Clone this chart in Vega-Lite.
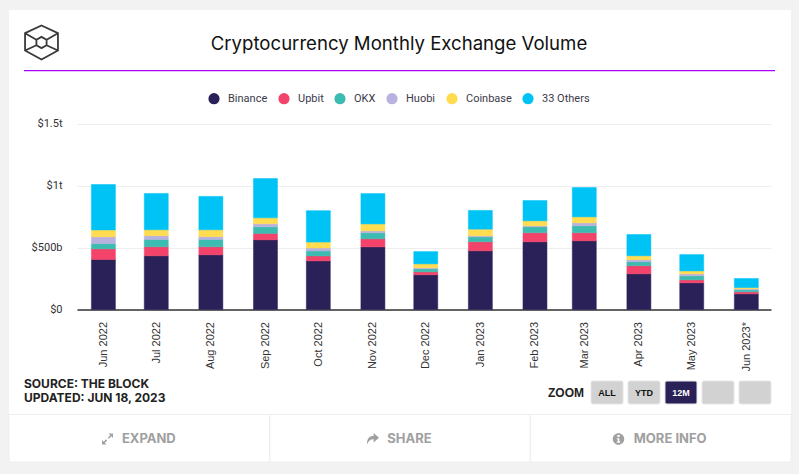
{
  "$schema": "https://vega.github.io/schema/vega-lite/v6.json",
  "autosize": {"type": "none"},
  "width": 782,
  "height": 452,
  "padding": {"left": 9, "top": 10, "right": 8, "bottom": 12},
  "background": "#f2f2f2",
  "view": {"fill": "#ffffff", "stroke": null},
  "title": {"text": "Cryptocurrency Monthly Exchange Volume", "anchor": "middle", "frame": "group", "offset": -44, "dx": -1, "font": "Inter", "fontSize": 18.6, "fontWeight": 400, "color": "#111111"},
  "layer": [
    {
      "data": {"values": [
        {"month": "2022-06-01", "exchange": "Binance", "rank": 1, "volume": 403},
        {"month": "2022-06-01", "exchange": "Upbit", "rank": 2, "volume": 86},
        {"month": "2022-06-01", "exchange": "OKX", "rank": 3, "volume": 43},
        {"month": "2022-06-01", "exchange": "Huobi", "rank": 4, "volume": 54},
        {"month": "2022-06-01", "exchange": "Coinbase", "rank": 5, "volume": 56},
        {"month": "2022-06-01", "exchange": "33 Others", "rank": 6, "volume": 366},
        {"month": "2022-07-01", "exchange": "Binance", "rank": 1, "volume": 433},
        {"month": "2022-07-01", "exchange": "Upbit", "rank": 2, "volume": 73},
        {"month": "2022-07-01", "exchange": "OKX", "rank": 3, "volume": 59},
        {"month": "2022-07-01", "exchange": "Huobi", "rank": 4, "volume": 30},
        {"month": "2022-07-01", "exchange": "Coinbase", "rank": 5, "volume": 48},
        {"month": "2022-07-01", "exchange": "33 Others", "rank": 6, "volume": 293},
        {"month": "2022-08-01", "exchange": "Binance", "rank": 1, "volume": 441},
        {"month": "2022-08-01", "exchange": "Upbit", "rank": 2, "volume": 65},
        {"month": "2022-08-01", "exchange": "OKX", "rank": 3, "volume": 59},
        {"month": "2022-08-01", "exchange": "Huobi", "rank": 4, "volume": 22},
        {"month": "2022-08-01", "exchange": "Coinbase", "rank": 5, "volume": 56},
        {"month": "2022-08-01", "exchange": "33 Others", "rank": 6, "volume": 269},
        {"month": "2022-09-01", "exchange": "Binance", "rank": 1, "volume": 562},
        {"month": "2022-09-01", "exchange": "Upbit", "rank": 2, "volume": 51},
        {"month": "2022-09-01", "exchange": "OKX", "rank": 3, "volume": 54},
        {"month": "2022-09-01", "exchange": "Huobi", "rank": 4, "volume": 24},
        {"month": "2022-09-01", "exchange": "Coinbase", "rank": 5, "volume": 48},
        {"month": "2022-09-01", "exchange": "33 Others", "rank": 6, "volume": 317},
        {"month": "2022-10-01", "exchange": "Binance", "rank": 1, "volume": 392},
        {"month": "2022-10-01", "exchange": "Upbit", "rank": 2, "volume": 40},
        {"month": "2022-10-01", "exchange": "OKX", "rank": 3, "volume": 40},
        {"month": "2022-10-01", "exchange": "Huobi", "rank": 4, "volume": 24},
        {"month": "2022-10-01", "exchange": "Coinbase", "rank": 5, "volume": 48},
        {"month": "2022-10-01", "exchange": "33 Others", "rank": 6, "volume": 253},
        {"month": "2022-11-01", "exchange": "Binance", "rank": 1, "volume": 505},
        {"month": "2022-11-01", "exchange": "Upbit", "rank": 2, "volume": 65},
        {"month": "2022-11-01", "exchange": "OKX", "rank": 3, "volume": 48},
        {"month": "2022-11-01", "exchange": "Huobi", "rank": 4, "volume": 16},
        {"month": "2022-11-01", "exchange": "Coinbase", "rank": 5, "volume": 56},
        {"month": "2022-11-01", "exchange": "33 Others", "rank": 6, "volume": 245},
        {"month": "2022-12-01", "exchange": "Binance", "rank": 1, "volume": 280},
        {"month": "2022-12-01", "exchange": "Upbit", "rank": 2, "volume": 24},
        {"month": "2022-12-01", "exchange": "OKX", "rank": 3, "volume": 24},
        {"month": "2022-12-01", "exchange": "Huobi", "rank": 4, "volume": 8},
        {"month": "2022-12-01", "exchange": "Coinbase", "rank": 5, "volume": 32},
        {"month": "2022-12-01", "exchange": "33 Others", "rank": 6, "volume": 99},
        {"month": "2023-01-01", "exchange": "Binance", "rank": 1, "volume": 473},
        {"month": "2023-01-01", "exchange": "Upbit", "rank": 2, "volume": 73},
        {"month": "2023-01-01", "exchange": "OKX", "rank": 3, "volume": 40},
        {"month": "2023-01-01", "exchange": "Huobi", "rank": 4, "volume": 8},
        {"month": "2023-01-01", "exchange": "Coinbase", "rank": 5, "volume": 54},
        {"month": "2023-01-01", "exchange": "33 Others", "rank": 6, "volume": 151},
        {"month": "2023-02-01", "exchange": "Binance", "rank": 1, "volume": 546},
        {"month": "2023-02-01", "exchange": "Upbit", "rank": 2, "volume": 73},
        {"month": "2023-02-01", "exchange": "OKX", "rank": 3, "volume": 48},
        {"month": "2023-02-01", "exchange": "Huobi", "rank": 4, "volume": 8},
        {"month": "2023-02-01", "exchange": "Coinbase", "rank": 5, "volume": 40},
        {"month": "2023-02-01", "exchange": "33 Others", "rank": 6, "volume": 164},
        {"month": "2023-03-01", "exchange": "Binance", "rank": 1, "volume": 554},
        {"month": "2023-03-01", "exchange": "Upbit", "rank": 2, "volume": 65},
        {"month": "2023-03-01", "exchange": "OKX", "rank": 3, "volume": 56},
        {"month": "2023-03-01", "exchange": "Huobi", "rank": 4, "volume": 24},
        {"month": "2023-03-01", "exchange": "Coinbase", "rank": 5, "volume": 48},
        {"month": "2023-03-01", "exchange": "33 Others", "rank": 6, "volume": 237},
        {"month": "2023-04-01", "exchange": "Binance", "rank": 1, "volume": 288},
        {"month": "2023-04-01", "exchange": "Upbit", "rank": 2, "volume": 65},
        {"month": "2023-04-01", "exchange": "OKX", "rank": 3, "volume": 32},
        {"month": "2023-04-01", "exchange": "Huobi", "rank": 4, "volume": 16},
        {"month": "2023-04-01", "exchange": "Coinbase", "rank": 5, "volume": 32},
        {"month": "2023-04-01", "exchange": "33 Others", "rank": 6, "volume": 172},
        {"month": "2023-05-01", "exchange": "Binance", "rank": 1, "volume": 215},
        {"month": "2023-05-01", "exchange": "Upbit", "rank": 2, "volume": 24},
        {"month": "2023-05-01", "exchange": "OKX", "rank": 3, "volume": 32},
        {"month": "2023-05-01", "exchange": "Huobi", "rank": 4, "volume": 16},
        {"month": "2023-05-01", "exchange": "Coinbase", "rank": 5, "volume": 24},
        {"month": "2023-05-01", "exchange": "33 Others", "rank": 6, "volume": 132},
        {"month": "2023-06-01", "exchange": "Binance", "rank": 1, "volume": 126},
        {"month": "2023-06-01", "exchange": "Upbit", "rank": 2, "volume": 16},
        {"month": "2023-06-01", "exchange": "OKX", "rank": 3, "volume": 16},
        {"month": "2023-06-01", "exchange": "Huobi", "rank": 4, "volume": 8},
        {"month": "2023-06-01", "exchange": "Coinbase", "rank": 5, "volume": 11},
        {"month": "2023-06-01", "exchange": "33 Others", "rank": 6, "volume": 73}
      ]},
      "mark": {"type": "bar", "width": 24, "strokeWidth": 1, "strokeOpacity": 0.5},
      "encoding": {
        "x": {
          "field": "month",
          "type": "temporal",
          "scale": {"type": "utc", "domain": ["2022-05-17", "2023-06-15"], "range": [68, 762], "nice": false, "padding": 0},
          "axis": {
            "title": null,
            "offset": -152.5,
            "grid": false,
            "ticks": false,
            "tickCount": {"interval": "month"},
            "format": "%b %Y",
            "labelExpr": "datum.label == 'Jun 2023' ? 'Jun 2023*' : datum.label",
            "labelAngle": -90,
            "labelAlign": "right",
            "labelBaseline": "middle",
            "labelPadding": 12,
            "labelFont": "Liberation Sans",
            "labelFontSize": 11,
            "labelColor": "#333333",
            "labelOverlap": false,
            "labelBound": false,
            "labelFlush": false,
            "domainColor": "#333333",
            "domainWidth": 1.5
          }
        },
        "y": {
          "field": "volume",
          "type": "quantitative",
          "stack": "zero",
          "scale": {"domain": [0, 1500], "range": [299.5, 113.5], "nice": false},
          "axis": {
            "title": null,
            "offset": -68,
            "values": [0, 500, 1000, 1500],
            "labelExpr": "datum.value == 0 ? '$0' : datum.value == 500 ? '$500b' : datum.value == 1000 ? '$1t' : '$1.5t'",
            "domain": false,
            "ticks": false,
            "grid": true,
            "gridColor": "#eeeeee",
            "labelPadding": 15,
            "labelFont": "Roboto",
            "labelFontSize": 11,
            "labelColor": "#333333"
          }
        },
        "order": {"field": "rank", "type": "ordinal"},
        "fill": {
          "field": "exchange",
          "type": "nominal",
          "scale": {"domain": ["Binance", "Upbit", "OKX", "Huobi", "Coinbase", "33 Others"], "range": ["#2a2159", "#f4436b", "#3cbcb0", "#b9b1e0", "#ffdc50", "#00c3f5"]},
          "legend": {
            "title": null,
            "orient": "none",
            "direction": "horizontal",
            "columns": 6,
            "legendX": 199,
            "legendY": 82.5,
            "symbolType": "circle",
            "symbolSize": 125,
            "symbolStrokeWidth": 0,
            "symbolOpacity": 1,
            "labelFont": "Roboto",
            "labelFontSize": 11,
            "labelColor": "#3a3a4a",
            "labelOffset": 8,
            "columnPadding": 10
          }
        },
        "stroke": {
          "field": "exchange",
          "type": "nominal",
          "scale": {"domain": ["Binance", "Upbit", "OKX", "Huobi", "Coinbase", "33 Others"], "range": ["#2a2159", "#f4436b", "#3cbcb0", "#b9b1e0", "#ffdc50", "#00c3f5"]},
          "legend": null
        }
      }
    },
    {
      "data": {"values": [{"item": "logo"}]},
      "mark": {"type": "point", "filled": false, "stroke": "#3a3a3a", "strokeWidth": 1.8, "opacity": 1, "size": 1150, "shape": "M0,-1L0.97,-0.55L0.97,0.47L0,1L-0.97,0.47L-0.97,-0.55ZM0,-0.33L0.3,-0.16L0.3,0.16L0,0.33L-0.3,0.16L-0.3,-0.16ZM-0.97,-0.55L-0.3,-0.16M0.97,-0.55L0.3,-0.16M-0.97,0.47L-0.3,0.16M0.97,0.47L0.3,0.16"},
      "encoding": {
        "x": {"field": "item", "type": "nominal", "scale": {"type": "point", "range": [32.5, 32.5]}, "axis": null},
        "y": {"field": "item", "type": "nominal", "scale": {"type": "point", "range": [32.5, 32.5]}, "axis": null}
      }
    },
    {
      "data": {"values": [{"item": "divider"}]},
      "mark": {"type": "bar", "fill": "#a600ff"},
      "encoding": {
        "x": {"field": "item", "type": "nominal", "scale": {"type": "band", "padding": 0, "range": [15, 766]}, "axis": null},
        "y": {"field": "item", "type": "nominal", "scale": {"type": "band", "padding": 0, "range": [60, 61.3]}, "axis": null}
      }
    },
    {
      "data": {"values": [{"line": "SOURCE: THE BLOCK"}, {"line": "UPDATED: JUN 18, 2023"}]},
      "mark": {"type": "text", "align": "left", "baseline": "middle", "font": "Inter", "fontWeight": "bold", "fontSize": 12, "fill": "#222222"},
      "encoding": {
        "x": {"datum": "source", "type": "nominal", "scale": {"type": "point", "range": [15, 15]}, "axis": null},
        "y": {"field": "line", "type": "nominal", "sort": null, "scale": {"type": "point", "padding": 0, "range": [374, 388]}, "axis": null},
        "text": {"field": "line"}
      }
    },
    {
      "data": {"values": [{"label": "ZOOM"}]},
      "mark": {"type": "text", "align": "right", "baseline": "middle", "font": "Liberation Sans", "fontWeight": "bold", "fontSize": 12, "fill": "#222222"},
      "encoding": {
        "x": {"field": "label", "type": "nominal", "scale": {"type": "point", "range": [575, 575]}, "axis": null},
        "y": {"field": "label", "type": "nominal", "scale": {"type": "point", "range": [383, 383]}, "axis": null},
        "text": {"field": "label"}
      }
    },
    {
      "data": {"name": "zoomButtons", "values": [
        {"button": "ALL", "label": "ALL"},
        {"button": "YTD", "label": "YTD"},
        {"button": "12M", "label": "12M"},
        {"button": "empty1", "label": ""},
        {"button": "empty2", "label": ""}
      ]},
      "mark": {"type": "bar", "cornerRadius": 2, "stroke": "#e6e6e6", "strokeWidth": 1},
      "encoding": {
        "x": {"field": "button", "type": "nominal", "sort": null, "scale": {"type": "band", "paddingInner": 0.135, "paddingOuter": 0, "range": [582, 762]}, "axis": null},
        "y": {"datum": "row", "type": "nominal", "scale": {"type": "band", "padding": 0, "range": [371, 394]}, "axis": null},
        "fill": {"condition": {"test": "datum.button == '12M'", "value": "#2a2159"}, "value": "#d2d2d2"}
      }
    },
    {
      "data": {"name": "zoomButtons"},
      "mark": {"type": "text", "font": "Liberation Sans", "fontWeight": "bold", "fontSize": 9, "baseline": "middle"},
      "encoding": {
        "x": {"field": "button", "type": "nominal", "sort": null, "scale": {"type": "band", "paddingInner": 0.135, "paddingOuter": 0, "range": [582, 762]}, "axis": null},
        "y": {"datum": "row", "type": "nominal", "scale": {"type": "band", "padding": 0, "range": [371, 394]}, "axis": null},
        "text": {"field": "label"},
        "fill": {"condition": {"test": "datum.button == '12M'", "value": "#ffffff"}, "value": "#111111"}
      }
    },
    {
      "data": {"name": "footer", "values": [
        {"action": "EXPAND"},
        {"action": "SHARE"},
        {"action": "MORE INFO"}
      ]},
      "mark": {"type": "bar", "fill": null, "stroke": "#eeeeee", "strokeWidth": 1},
      "encoding": {
        "x": {"field": "action", "type": "nominal", "sort": null, "scale": {"type": "band", "padding": 0, "range": [0, 782]}, "axis": null},
        "y": {"datum": "row", "type": "nominal", "scale": {"type": "band", "padding": 0, "range": [404.5, 452]}, "axis": null}
      }
    },
    {
      "data": {"name": "footer"},
      "mark": {"type": "text", "font": "Inter", "fontWeight": "bold", "fontSize": 13, "fill": "#a0a0a0", "baseline": "middle", "dx": 9.5, "dy": 1},
      "encoding": {
        "x": {"field": "action", "type": "nominal", "sort": null, "scale": {"type": "band", "padding": 0, "range": [0, 782]}, "axis": null},
        "y": {"datum": "row", "type": "nominal", "scale": {"type": "band", "padding": 0, "range": [404.5, 452]}, "axis": null},
        "text": {"field": "action"}
      }
    },
    {
      "data": {"values": [{"icon": "expand"}]},
      "mark": {"type": "point", "filled": true, "fill": "#a0a0a0", "opacity": 1, "size": 121, "shape": "M0.2,-1L1,-1L1,-0.2L0.7,-0.5L0.25,-0.05L0.05,-0.25L0.5,-0.7ZM-0.2,1L-1,1L-1,0.2L-0.7,0.5L-0.25,0.05L-0.05,0.25L-0.5,0.7Z"},
      "encoding": {
        "x": {"field": "icon", "type": "nominal", "scale": {"type": "point", "range": [98.5, 98.5]}, "axis": null},
        "y": {"field": "icon", "type": "nominal", "scale": {"type": "point", "range": [429, 429]}, "axis": null}
      }
    },
    {
      "data": {"values": [{"icon": "share"}]},
      "mark": {"type": "point", "filled": true, "fill": "#a0a0a0", "opacity": 1, "size": 144, "shape": "M1,-0.2L0.1,-1L0.1,-0.5C-0.6,-0.5 -1,-0.1 -1,0.9C-0.7,0.2 -0.3,0 0.1,0.05L0.1,0.6Z"},
      "encoding": {
        "x": {"field": "icon", "type": "nominal", "scale": {"type": "point", "range": [364, 364]}, "axis": null},
        "y": {"field": "icon", "type": "nominal", "scale": {"type": "point", "range": [429, 429]}, "axis": null}
      }
    },
    {
      "data": {"values": [{"icon": "info"}]},
      "mark": {"type": "point", "filled": true, "fill": "#a0a0a0", "opacity": 1, "size": 132, "shape": "M0,-1A1,1,0,1,1,0,1A1,1,0,1,1,0,-1ZM-0.2,-0.7L-0.2,-0.33L0.2,-0.33L0.2,-0.7ZM-0.3,-0.15L-0.3,0.05L-0.13,0.05L-0.13,0.45L-0.3,0.45L-0.3,0.65L0.3,0.65L0.3,0.45L0.15,0.45L0.15,-0.15Z"},
      "encoding": {
        "x": {"field": "icon", "type": "nominal", "scale": {"type": "point", "range": [609.5, 609.5]}, "axis": null},
        "y": {"field": "icon", "type": "nominal", "scale": {"type": "point", "range": [429, 429]}, "axis": null}
      }
    }
  ],
  "resolve": {"scale": {"x": "independent", "y": "independent"}}
}
